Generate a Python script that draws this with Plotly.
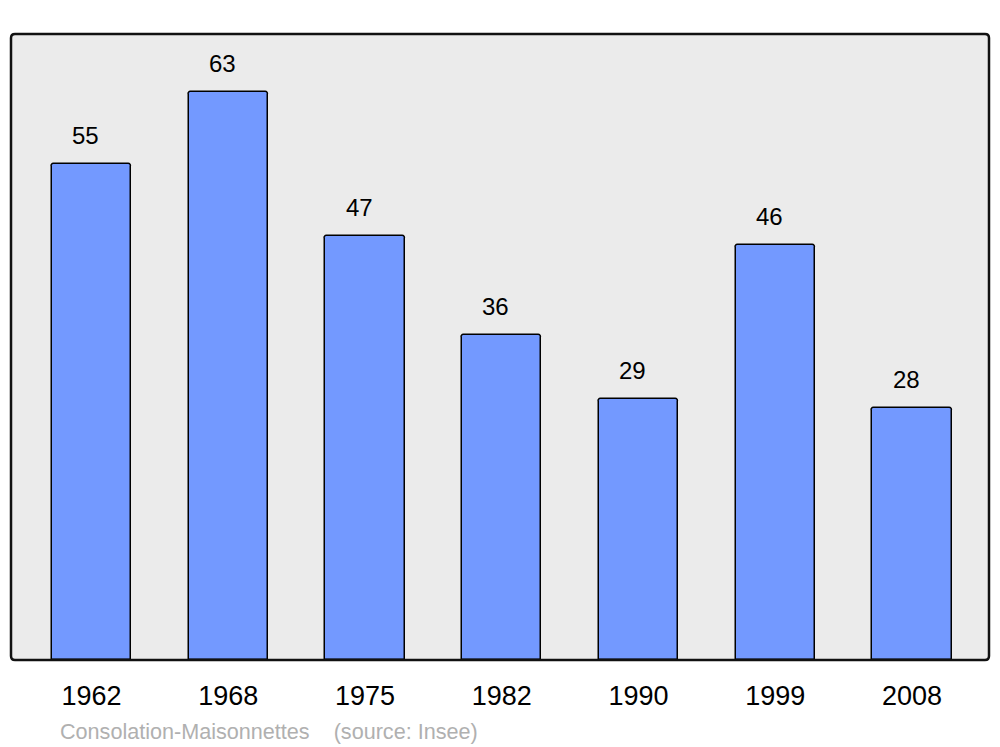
import plotly.graph_objects as go

years = ["1962", "1968", "1975", "1982", "1990", "1999", "2008"]
population = [55, 63, 47, 36, 29, 46, 28]
source_text = "Consolation-Maisonnettes    (source: Insee)"

# page body has an 8px margin, so the figure is 8px smaller than the window
W, H = 992, 739
ml, mr, mt, mb = 3, 11, 26, 87
pw, ph = W - ml - mr, H - mt - mb

fig = go.Figure()

fig.add_trace(go.Bar(
    x=list(range(len(years))), y=population,
    width=0.58,
    marker=dict(color="#7399ff", line=dict(color="black", width=1.5), cornerradius=3),
    hoverinfo="x+y",
    showlegend=False,
))

# value labels above each bar (slightly left of centre, as in the original)
for i, v in enumerate(population):
    fig.add_annotation(
        x=i, y=v, text=str(v), showarrow=False,
        yanchor="bottom", yshift=13, xshift=-6,
        font=dict(size=24, color="black"),
    )

# rounded frame around plot area (paper coords, radius in px)
r = 4
rx, ry = r / pw, r / ph
frame = (f"M {rx},0 L {1-rx},0 Q 1,0 1,{ry} L 1,{1-ry} Q 1,1 {1-rx},1 "
         f"L {rx},1 Q 0,1 0,{1-ry} L 0,{ry} Q 0,0 {rx},0 Z")
fig.add_shape(type="path", path=frame, xref="paper", yref="paper",
              fillcolor="#ebebeb", line=dict(width=0), layer="below")
fig.add_shape(type="path", path=frame, xref="paper", yref="paper",
              fillcolor="rgba(0,0,0,0)", line=dict(color="#111111", width=2.5), layer="above")

fig.add_annotation(
    x=0, y=0, xref="paper", yref="paper", xanchor="left", yanchor="top",
    xshift=47, yshift=-57, showarrow=False, text=source_text,
    font=dict(size=21.6, color="#b0b0b0"),
)

fig.update_xaxes(
    range=[-0.589, 6.563],
    tickmode="array", tickvals=list(range(len(years))), ticktext=years,
    ticks="outside", ticklen=12, tickcolor="rgba(0,0,0,0)",
    tickfont=dict(size=27, color="black"),
    showgrid=False, zeroline=False, showline=False,
)
fig.update_yaxes(
    range=[0, 69.43], showticklabels=False, showgrid=False, zeroline=False, showline=False,
)

fig.update_layout(
    width=W, height=H,
    margin=dict(l=ml, r=mr, t=mt, b=mb),
    paper_bgcolor="white", plot_bgcolor="white",
    font=dict(family="Liberation Sans, Arial, sans-serif"),
    bargap=0,
)

fig.write_html("out.html")
